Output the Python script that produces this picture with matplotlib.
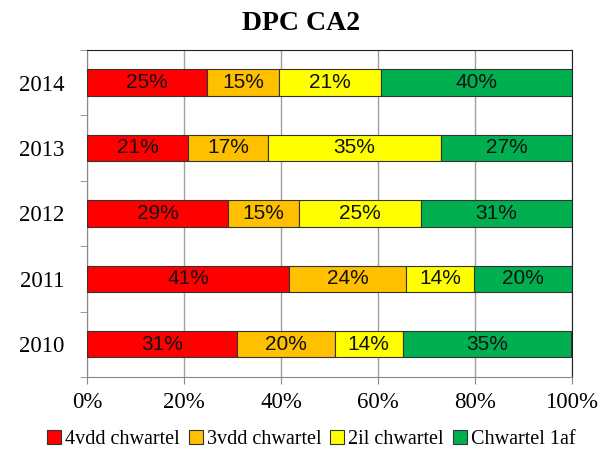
import matplotlib
matplotlib.use("Agg")
import matplotlib.pyplot as plt
import numpy as np

years = ["2010", "2011", "2012", "2013", "2014"]
series_names = ["4vdd chwartel", "3vdd chwartel", "2il chwartel", "Chwartel 1af"]
q4 = [30.9, 41.7, 29.1, 20.8, 24.7]
q3 = [20.2, 24.0, 14.6, 16.5, 14.9]
q2 = [14.0, 14.2, 25.2, 35.7, 21.0]
q1 = [34.8, 20.2, 31.1, 27.0, 39.4]
labels_q4 = ["31%", "41%", "29%", "21%", "25%"]
labels_q3 = ["20%", "24%", "15%", "17%", "15%"]
labels_q2 = ["14%", "14%", "25%", "35%", "21%"]
labels_q1 = ["35%", "20%", "31%", "27%", "40%"]
colors = ["#FF0000", "#FFC000", "#FFFF00", "#00B050"]
xticks = [0, 20, 40, 60, 80, 100]

fig = plt.figure(figsize=(6.02, 4.57), dpi=100)
ax = fig.add_axes([0.1445, 0.175, 0.8055, 0.716])

serif = "Liberation Serif"
y = np.arange(len(years))
left = np.zeros(len(years))
for vals, labs, col, name in zip([q4, q3, q2, q1],
                                 [labels_q4, labels_q3, labels_q2, labels_q1],
                                 colors, series_names):
    bars = ax.barh(y, vals, left=left, height=0.4, color=col,
                   edgecolor="#333333", linewidth=0.8, label=name, zorder=3)
    for b, lab in zip(bars, labs):
        ax.text(b.get_x() + b.get_width() / 2, b.get_y() + b.get_height() / 2,
                lab, ha="center", va="center", fontsize=15,
                family="Liberation Sans", color="#111111", zorder=4)
    left = left + np.array(vals)

ax.set_xlim(0, 100)
ax.set_ylim(-0.5, len(years) - 0.5)
ax.set_xticks(xticks)
ax.set_xticklabels([f"{v}%" for v in xticks], family=serif, fontsize=16.5)
ax.set_yticks(y)
ax.set_yticklabels(years, family=serif, fontsize=16.5)
ax.set_yticks(np.arange(-0.5, len(years), 1), minor=True)
ax.tick_params(axis="y", which="major", length=0, pad=16)
ax.tick_params(axis="y", which="minor", length=5, color="#888888")
ax.tick_params(axis="x", which="major", length=5, color="#888888", pad=6)
ax.grid(axis="x", color="#A0A0A0", linewidth=1, zorder=0)
for s in ["left", "bottom"]:
    ax.spines[s].set_color("#888888")
for s in ["top", "right"]:
    ax.spines[s].set_color("#222222")

fig.suptitle("DPC CA2", family=serif, fontsize=20, fontweight="bold", y=0.977)

fig.legend(loc="lower center", bbox_to_anchor=(0.517, -0.022), ncol=4,
           frameon=False, prop={"family": serif, "size": 14.5},
           handlelength=0.7, handleheight=0.7, handletextpad=0.2,
           columnspacing=0.45)

fig.savefig("out.png", dpi=100)
